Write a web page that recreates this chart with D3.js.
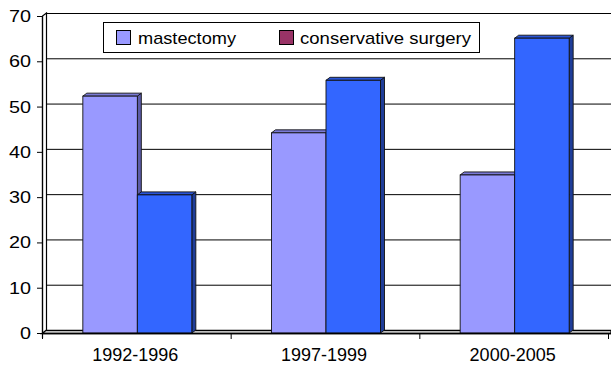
<!DOCTYPE html>
<html><head><meta charset="utf-8">
<script src="https://cdn.jsdelivr.net/npm/d3@7"></script>
<style>body{margin:0;background:#fff}svg{display:block}</style>
</head><body><svg id="c" width="611" height="365"></svg>
<script>
const categories = ["1992-1996", "1997-1999", "2000-2005"];
const seriesNames = ["mastectomy", "conservative surgery"];
const mastectomy = [52.3, 44.2, 34.9];
const conservative = [30.5, 55.8, 65.1];
const yTicks = [0, 10, 20, 30, 40, 50, 60, 70];
const legendColors = ["#9999FF", "#993366"];
const barColors = [
  {front: "#9999FF", side: "#5C5CA8", top: "#7A7AD6"},
  {front: "#3366FF", side: "#1F3D99", top: "#2A55D6"}
];

const svg = d3.select("#c");
const font = "Liberation Sans, Arial, sans-serif";
const dx = 4, dy = -3;
const x0 = d3.scaleBand().domain(categories).range([42, 608]);
const x1 = d3.scaleBand().domain(seriesNames).range([0, 109]);
const y = d3.scaleLinear().domain([0, 70]).range([333, 16]);

const g = svg.append("g");
// back wall gridlines
g.selectAll("line.grid").data(yTicks).enter().append("line")
  .attr("x1", 42 + dx).attr("x2", 611)
  .attr("y1", d => y(d) + dy + 0.5).attr("y2", d => y(d) + dy + 0.5)
  .attr("stroke", "#000").attr("stroke-width", 1);

// left side wall
g.append("path")
  .attr("d", `M${42.5},${y(0)} L${42.5},${y(70)} L${42 + dx + 0.5},${y(70) + dy} L${42 + dx + 0.5},${y(0) + dy}`)
  .attr("fill", "#fff").attr("stroke", "#000").attr("stroke-width", 1.2);

// floor
g.append("path")
  .attr("d", `M42,${y(0) + 0.5} L${42 + dx},${y(0) + dy + 0.5} L611,${y(0) + dy + 0.5} L611,${y(0) + 0.5} Z`)
  .attr("fill", "#fff").attr("stroke", "#000").attr("stroke-width", 1.3);

// bars
const data = categories.map((c, i) => ({cat: c, vals: [mastectomy[i], conservative[i]]}));
const offset = x0.bandwidth() / 2 - 54.5 + 1;
data.forEach(d => {
  d.vals.forEach((v, j) => {
    const left = x0(d.cat) + offset + x1(seriesNames[j]);
    const w = x1.bandwidth();
    const top = y(v), bot = y(0);
    const col = barColors[j];
    const bg = g.append("g");
    bg.append("path")
      .attr("d", `M${left + w},${bot} L${left + w},${top} L${left + w + dx},${top + dy} L${left + w + dx},${bot + dy} Z`)
      .attr("fill", col.side).attr("stroke", "#111").attr("stroke-width", 0.9);
    bg.append("path")
      .attr("d", `M${left},${top} L${left + dx},${top + dy} L${left + w + dx},${top + dy} L${left + w},${top} Z`)
      .attr("fill", col.top).attr("stroke", "#111").attr("stroke-width", 0.9);
    bg.append("rect")
      .attr("x", left).attr("y", top).attr("width", w).attr("height", bot - top)
      .attr("fill", col.front).attr("stroke", "#111").attr("stroke-width", 0.9);
  });
});

// y axis
const yAxis = g.append("g");
yAxis.append("line").attr("x1", 42.5).attr("x2", 42.5).attr("y1", y(70)).attr("y2", y(0) + 5)
  .attr("stroke", "#000").attr("stroke-width", 1.2);
yAxis.selectAll("line.t").data(yTicks).enter().append("line")
  .attr("x1", 37).attr("x2", 42.5).attr("y1", d => y(d) + 0.5).attr("y2", d => y(d) + 0.5)
  .attr("stroke", "#000");
yAxis.selectAll("text").data(yTicks).enter().append("text")
  .attr("x", 31).attr("y", d => y(d) + 6).attr("text-anchor", "end")
  .attr("font-family", font).attr("font-size", 16).attr("fill", "#000")
  .attr("textLength", d => String(d).length * 11).attr("lengthAdjust", "spacingAndGlyphs")
  .text(d => d);

// x axis
const xAxis = g.append("g");
xAxis.append("line").attr("x1", 42).attr("x2", 611).attr("y1", y(0) + 0.5).attr("y2", y(0) + 0.5)
  .attr("stroke", "#000").attr("stroke-width", 1.3);
const xt = [42].concat(categories.map(c => x0(c) + x0.bandwidth()));
xAxis.selectAll("line.t").data(xt).enter().append("line")
  .attr("x1", d => d + 0.5).attr("x2", d => d + 0.5).attr("y1", y(0)).attr("y2", y(0) + 6)
  .attr("stroke", "#000");
xAxis.selectAll("text").data(categories).enter().append("text")
  .attr("x", d => x0(d) + x0.bandwidth() / 2 - 1).attr("y", 361).attr("text-anchor", "middle")
  .attr("font-family", font).attr("font-size", 18).attr("fill", "#000")
  .text(d => d);

// legend
const lg = g.append("g");
lg.append("rect").attr("x", 103.5).attr("y", 22.5).attr("width", 376).attr("height", 30)
  .attr("fill", "#fff").attr("stroke", "#000").attr("stroke-width", 1);
const lx = [116, 279];
const lw = [98, 171];
seriesNames.forEach((s, i) => {
  lg.append("rect").attr("x", lx[i] + 0.5).attr("y", 30.5).attr("width", 14).attr("height", 14)
    .attr("fill", legendColors[i]).attr("stroke", "#000").attr("stroke-width", 1);
  lg.append("text").attr("x", lx[i] + (i === 0 ? 22 : 21)).attr("y", 43.5).attr("font-family", font)
    .attr("font-size", 17).attr("fill", "#000")
    .attr("textLength", lw[i]).attr("lengthAdjust", "spacingAndGlyphs").text(s);
});
</script></body></html>
